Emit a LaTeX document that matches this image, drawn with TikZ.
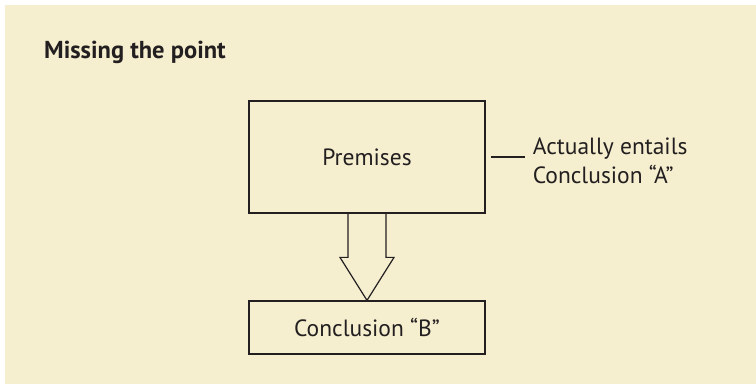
\documentclass[tikz,border=0pt]{standalone}
\usepackage{fontspec}
\setmainfont{PT Sans}
\usetikzlibrary{calc,positioning}
\definecolor{cream}{HTML}{F5EFCF}
\definecolor{ink}{HTML}{231F20}

\begin{document}
\begin{tikzpicture}[x=1pt, y=1pt,
  box/.style={draw=ink, line width=1.2pt, text=ink, font=\fontsize{23.5}{29}\selectfont,
              minimum width=236pt, inner sep=0pt},
  note/.style={text=ink, font=\fontsize{23.5}{29}\selectfont, align=left, inner sep=0pt},
]
  \useasboundingbox (0,0) rectangle (756,386);
  \fill[cream] (5,2) rectangle (756,381);

  \node[anchor=base west, text=ink, inner sep=0pt, font=\bfseries\fontsize{24.5}{29}\selectfont]
    (title) at (44,327) {Missing the point};

  \node[box, minimum height=112pt] (prem) at (367,229) {Premises};
  \node[box, minimum height=53pt] (concl) at (367,58.5) {Conclusion “B”};

  % hollow block arrow
  \draw[ink, line width=1.2pt, line join=miter]
    ($(prem.south)+(-19,0)$) |- ($(concl.north)+(-27,43)$) -- (concl.north)
    -- ($(concl.north)+(27,43)$) -| ($(prem.south)+(19,0)$);

  % side note
  \coordinate (tick) at ($(prem.east)+(39,0)$);
  \draw[ink, line width=1.2pt] ($(prem.east)+(5,0)$) -- (tick);
  \node[note, anchor=west, right=8pt of tick, yshift=-4pt] (entails) {Actually entails\\Conclusion “A”};
\end{tikzpicture}
\end{document}
